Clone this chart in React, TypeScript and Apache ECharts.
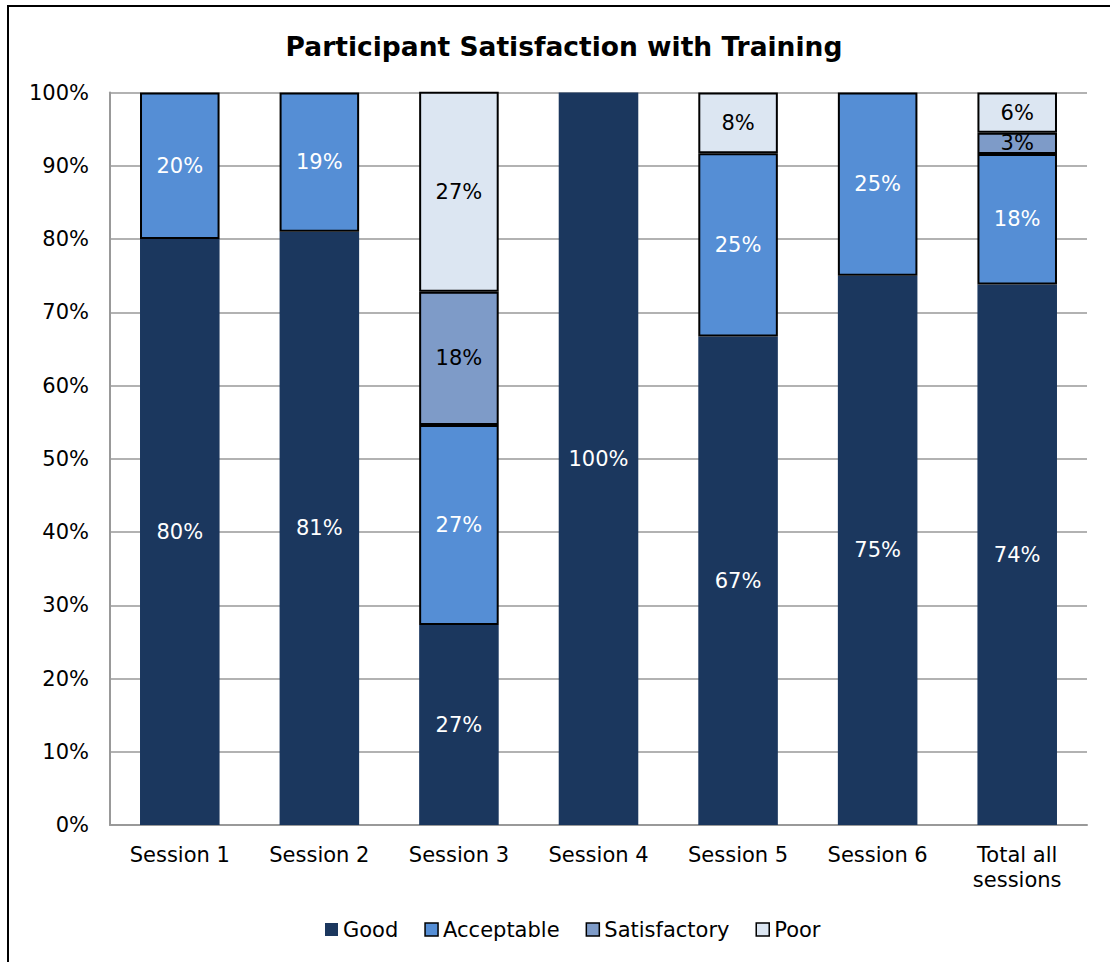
import React, { useEffect, useRef } from "react";
import * as echarts from "echarts";

const categories = ["Session 1", "Session 2", "Session 3", "Session 4", "Session 5", "Session 6", "Total all\nsessions"];
const good = [80, 81, 27.3, 100, 66.7, 75, 73.8];
const acceptable = [20, 19, 27.3, 0, 25, 25, 17.8];
const satisfactory = [0, 0, 18.2, 0, 0, 0, 2.9];
const poor = [0, 0, 27.3, 0, 8.3, 0, 5.5];
const yTicks = [0, 10, 20, 30, 40, 50, 60, 70, 80, 90, 100];

const FONT = "DejaVu Sans, Verdana, sans-serif";

export default function App() {
  const ref = useRef<HTMLDivElement>(null);
  useEffect(() => {
    if (!ref.current) return;
    const chart = echarts.init(ref.current, null, { renderer: "svg" });
    const mk = (name: string, data: number[], color: string, labelColor: string, border: boolean) => ({
      name,
      type: "bar",
      stack: "total",
      barWidth: "57%",
      data: data.map((v) => (v > 0 ? v : null)),
      itemStyle: {
        color,
        borderColor: border ? "#000" : color,
        borderWidth: border ? 2 : 0,
      },
      label: {
        show: true,
        position: "inside",
        color: labelColor,
        fontFamily: FONT,
        fontSize: 21,
        formatter: (p: any) => Math.round(p.value) + "%",
      },
    });
    chart.setOption({
      animation: false,
      backgroundColor: "#fff",
      title: {
        text: "Participant Satisfaction with Training",
        left: 559,
        textAlign: "center",
        top: 28,
        textStyle: { fontFamily: FONT, fontSize: 26.5, fontWeight: "bold", color: "#000" },
      },
      legend: {
        bottom: 17,
        left: 320,
        itemWidth: 13,
        itemHeight: 13,
        itemGap: 26,
        icon: "rect",
        textStyle: { fontFamily: FONT, fontSize: 21, color: "#000" },
        data: [
          { name: "Good", itemStyle: { borderWidth: 0 } },
          { name: "Acceptable", itemStyle: { borderColor: "#000", borderWidth: 1.5 } },
          { name: "Satisfactory", itemStyle: { borderColor: "#000", borderWidth: 1.5 } },
          { name: "Poor", itemStyle: { borderColor: "#000", borderWidth: 1.5 } },
        ],
      },
      grid: { left: 110, right: 23, top: 92.5, bottom: 137 },
      xAxis: {
        type: "category",
        data: categories,
        axisTick: { show: false },
        axisLine: { lineStyle: { color: "#999", width: 2 } },
        axisLabel: { fontFamily: FONT, fontSize: 21, color: "#000", margin: 17, lineHeight: 25 },
      },
      yAxis: {
        type: "value",
        min: 0,
        max: 100,
        interval: 10,
        axisLine: { show: true, lineStyle: { color: "#999", width: 2 } },
        axisTick: { show: false },
        splitLine: { lineStyle: { color: "#999", width: 1.5 } },
        axisLabel: {
          fontFamily: FONT,
          fontSize: 21,
          color: "#000",
          margin: 21,
          formatter: (v: number) => (yTicks.includes(v) ? v + "%" : ""),
        },
      },
      graphic: [
        {
          type: "rect",
          shape: { x: 8, y: 6, width: 1200, height: 1000 },
          style: { fill: "none", stroke: "#000", lineWidth: 2 },
          silent: true,
        },
      ],
      series: [
        mk("Good", good, "#1B375E", "#fff", false),
        mk("Acceptable", acceptable, "#558ED5", "#fff", true),
        mk("Satisfactory", satisfactory, "#7E9BC8", "#000", true),
        mk("Poor", poor, "#DCE6F2", "#000", true),
      ],
    });
    return () => chart.dispose();
  }, []);
  return <div ref={ref} style={{ position: "absolute", left: 0, top: 0, width: 1110, height: 962 }} />;
}
